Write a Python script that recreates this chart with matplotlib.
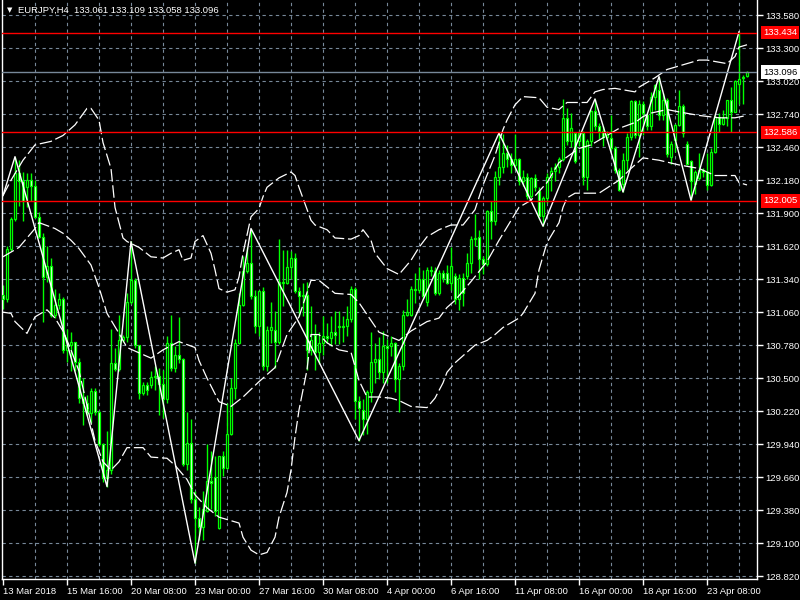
import matplotlib
matplotlib.use('Agg')
import matplotlib.pyplot as plt

# EURJPY H4 candles, 13 Mar 2018 .. 25 Apr 2018
opens = [131.21, 131.17, 131.60, 131.85, 132.24, 132.17, 132.12, 132.18, 132.13, 131.87,
         131.70, 131.36, 131.45, 131.04, 131.12, 131.17, 130.74, 130.78, 130.81, 130.64,
         130.33, 130.29, 130.20, 130.39, 130.21, 129.94, 129.65, 129.72, 130.63, 130.58,
         130.82, 130.85, 131.15, 131.33, 130.78, 130.37, 130.44, 130.44, 130.51, 130.52,
         130.45, 130.32, 130.80, 130.59, 130.70, 130.66, 129.77, 129.95, 129.47, 129.31,
         129.24, 129.37, 129.63, 129.66, 129.23, 129.84, 129.74, 130.03, 130.42, 130.80,
         131.12, 131.41, 131.48, 131.20, 130.94, 131.24, 130.60, 130.91, 130.91, 130.81,
         131.32, 131.31, 131.44, 131.52, 131.24, 131.20, 131.21, 130.74, 130.87, 130.72,
         130.80, 130.86, 130.84, 130.89, 130.93, 130.94, 130.94, 131.00, 131.26, 130.31,
         130.23, 130.15, 130.38, 130.64, 130.66, 130.55, 130.77, 130.77, 130.80, 130.49,
         130.60, 131.04, 131.04, 131.26, 131.25, 131.34, 131.15, 131.42, 131.41, 131.22,
         131.39, 131.39, 131.31, 131.37, 131.17, 131.35, 131.37, 131.48, 131.68, 131.70,
         131.51, 131.47, 131.92, 131.83, 132.21, 132.29, 132.41, 132.36, 132.31, 132.36,
         132.17, 132.21, 132.05, 132.20, 132.09, 131.88, 132.03, 132.21, 132.26, 132.29,
         132.36, 132.71, 132.51, 132.58, 132.51, 132.58, 132.21, 132.51, 132.77, 132.64,
         132.60, 132.55, 132.54, 132.45, 132.27, 132.15, 132.35, 132.55, 132.85, 132.56,
         132.83, 132.73, 132.64, 132.89, 132.95, 132.73, 132.86, 132.38, 132.52, 132.65,
         132.81, 132.49, 132.34, 132.15, 132.20, 132.27, 132.25, 132.14, 132.42, 132.72,
         132.66, 132.71, 132.86, 132.76, 133.00, 133.05, 133.061]
highs = [131.29, 131.62, 131.87, 132.38, 132.35, 132.25, 132.24, 132.24, 132.18, 131.91,
         131.73, 131.62, 131.52, 131.26, 131.22, 131.19, 130.92, 130.89, 130.81, 130.67,
         130.50, 130.36, 130.42, 130.42, 130.23, 129.95, 130.05, 130.92, 130.76, 131.04,
         130.87, 131.22, 131.66, 131.35, 130.78, 130.47, 130.47, 130.56, 130.60, 130.59,
         130.57, 130.86, 131.04, 130.77, 131.02, 130.67, 130.21, 130.15, 129.54, 129.41,
         129.54, 129.94, 129.88, 129.84, 129.84, 129.88, 130.29, 130.50, 130.83, 131.22,
         131.54, 131.61, 131.77, 131.25, 131.25, 131.27, 130.94, 131.15, 131.07, 131.68,
         131.59, 131.59, 131.58, 131.56, 131.27, 131.31, 131.32, 131.11, 130.96, 130.89,
         131.03, 130.97, 131.03, 131.07, 131.07, 131.03, 131.11, 131.28, 131.27, 130.35,
         130.32, 130.40, 130.89, 130.80, 130.85, 130.90, 130.83, 130.86, 130.81, 130.63,
         131.08, 131.17, 131.28, 131.39, 131.44, 131.42, 131.44, 131.45, 131.44, 131.42,
         131.42, 131.46, 131.61, 131.39, 131.38, 131.39, 131.56, 131.71, 131.89, 131.76,
         131.54, 131.93, 132.00, 132.26, 132.58, 132.57, 132.48, 132.41, 132.57, 132.37,
         132.27, 132.24, 132.21, 132.23, 132.12, 132.05, 132.24, 132.29, 132.33, 132.38,
         132.87, 132.79, 132.75, 132.58, 132.60, 132.60, 132.53, 132.78, 132.87, 132.67,
         132.64, 132.60, 132.73, 132.47, 132.28, 132.41, 132.58, 132.86, 132.86, 132.86,
         132.85, 132.75, 132.93, 133.00, 133.06, 132.92, 132.88, 132.51, 132.66, 132.95,
         132.83, 132.51, 132.35, 132.27, 132.41, 132.28, 132.41, 132.45, 132.73, 132.75,
         132.78, 132.86, 132.97, 133.03, 133.44, 133.07, 133.109]
lows = [131.09, 131.15, 131.58, 131.83, 131.96, 131.83, 131.95, 132.00, 131.86, 131.69,
        130.98, 131.32, 131.02, 131.01, 131.09, 130.71, 130.64, 130.56, 130.56, 130.29,
        130.10, 130.19, 130.12, 130.19, 129.92, 129.62, 129.58, 129.69, 130.56, 130.56,
        130.81, 130.81, 131.13, 130.76, 130.32, 130.36, 130.36, 130.42, 130.40, 130.19,
        130.16, 130.29, 130.56, 130.55, 130.63, 129.75, 129.72, 129.44, 128.93, 129.13,
        129.13, 129.36, 129.39, 129.33, 129.22, 129.67, 129.73, 130.02, 130.32, 130.79,
        131.11, 131.39, 131.17, 130.88, 130.86, 130.57, 130.56, 130.80, 130.59, 130.79,
        131.11, 131.30, 131.34, 131.22, 131.03, 131.03, 130.57, 130.70, 130.57, 130.62,
        130.70, 130.80, 130.77, 130.79, 130.79, 130.81, 130.86, 130.98, 130.15, 129.97,
        130.02, 130.03, 130.30, 130.46, 130.49, 130.46, 130.46, 130.69, 130.38, 130.21,
        130.57, 131.03, 131.03, 131.14, 131.22, 131.17, 131.11, 131.37, 131.21, 131.21,
        131.32, 131.30, 131.25, 131.13, 131.08, 131.11, 131.34, 131.39, 131.62, 131.34,
        131.38, 131.45, 131.68, 131.80, 132.14, 132.24, 132.29, 132.24, 132.27, 132.14,
        132.13, 132.02, 132.03, 132.09, 131.85, 131.79, 131.99, 132.09, 132.17, 132.24,
        132.34, 132.48, 132.46, 132.33, 132.47, 132.14, 132.10, 132.47, 132.61, 132.53,
        132.47, 132.52, 132.44, 132.24, 132.09, 132.08, 132.27, 132.52, 132.54, 132.38,
        132.56, 132.61, 132.61, 132.78, 132.69, 132.69, 132.38, 132.32, 132.42, 132.64,
        132.55, 132.31, 132.01, 132.06, 132.18, 132.21, 132.10, 132.13, 132.41, 132.59,
        132.65, 132.64, 132.59, 132.76, 132.83, 132.83, 133.058]
closes = [131.17, 131.60, 131.85, 132.24, 132.17, 132.00, 132.18, 132.13, 131.87, 131.70,
          131.36, 131.45, 131.04, 131.12, 131.17, 130.74, 130.78, 130.81, 130.64, 130.33,
          130.29, 130.20, 130.39, 130.21, 129.94, 129.65, 129.72, 130.63, 130.58, 130.82,
          130.85, 131.15, 131.33, 130.78, 130.37, 130.44, 130.40, 130.51, 130.52, 130.45,
          130.32, 130.80, 130.59, 130.70, 130.66, 129.77, 129.95, 129.47, 129.31, 129.24,
          129.39, 129.63, 129.61, 129.37, 129.84, 129.74, 130.03, 130.42, 130.80, 131.12,
          131.41, 131.48, 131.20, 130.94, 131.24, 130.60, 130.91, 130.93, 130.81, 131.32,
          131.31, 131.44, 131.52, 131.24, 131.20, 131.21, 130.74, 130.82, 130.72, 130.80,
          130.86, 130.84, 130.89, 130.87, 130.94, 130.93, 131.00, 131.26, 130.31, 130.25,
          130.15, 130.38, 130.64, 130.66, 130.55, 130.77, 130.76, 130.80, 130.49, 130.60,
          131.04, 131.06, 131.26, 131.25, 131.34, 131.20, 131.42, 131.41, 131.22, 131.39,
          131.35, 131.31, 131.45, 131.17, 131.35, 131.22, 131.48, 131.68, 131.69, 131.51,
          131.47, 131.92, 131.83, 132.21, 132.29, 132.41, 132.36, 132.31, 132.36, 132.17,
          132.21, 132.05, 132.20, 132.12, 131.88, 132.03, 132.21, 132.26, 132.29, 132.36,
          132.71, 132.51, 132.62, 132.34, 132.58, 132.21, 132.51, 132.77, 132.64, 132.60,
          132.55, 132.56, 132.45, 132.27, 132.10, 132.35, 132.55, 132.85, 132.56, 132.83,
          132.75, 132.64, 132.89, 132.99, 132.73, 132.86, 132.40, 132.49, 132.65, 132.81,
          132.58, 132.32, 132.17, 132.25, 132.27, 132.25, 132.14, 132.42, 132.72, 132.66,
          132.71, 132.86, 132.76, 133.02, 133.04, 133.06, 133.096]

# bands (white dashed), sampled at bar index
upper_bar = [0, 2, 5, 8, 12, 15, 18, 21, 22, 24, 25, 27, 28, 30, 31, 34, 37, 40, 42, 44,
             45, 47, 48, 50, 52, 53, 54, 56, 58, 59, 60, 62, 64, 65, 66, 69, 72, 73, 74, 77,
             78, 81, 83, 87, 89, 90, 92, 93, 96, 99, 102, 104, 106, 109, 112, 115, 118, 120, 123, 125,
             126, 128, 130, 134, 136, 139, 141, 146, 148, 150, 153, 158, 159, 163, 166, 168, 171, 174, 176, 181,
             183, 184, 186]
upper = [132.05, 132.18, 132.35, 132.48, 132.51, 132.56, 132.65, 132.79, 132.79, 132.69,
         132.50, 132.28, 131.95, 131.69, 131.66, 131.61, 131.53, 131.52, 131.56, 131.59,
         131.50, 131.52, 131.66, 131.71, 131.56, 131.42, 131.26, 131.23, 131.25, 131.36,
         131.56, 131.87, 131.94, 132.04, 132.12, 132.20, 132.25, 132.22, 132.12, 131.84,
         131.80, 131.76, 131.69, 131.68, 131.71, 131.76, 131.67, 131.56, 131.43, 131.38,
         131.50, 131.61, 131.70, 131.76, 131.80, 131.80, 131.93, 132.14, 132.39, 132.61,
         132.69, 132.82, 132.89, 132.88, 132.80, 132.78, 132.84, 132.84, 132.93, 132.95,
         132.96, 132.93, 132.97, 133.05, 133.12, 133.14, 133.17, 133.20, 133.20, 133.17,
         133.23, 133.31, 133.33]
middle_bar = [0, 4, 8, 9, 13, 15, 17, 19, 22, 24, 26, 29, 31, 35, 37, 40, 44, 48, 49, 51,
              54, 57, 60, 64, 68, 71, 74, 77, 79, 83, 87, 89, 92, 94, 99, 102, 106, 109, 111, 113,
              117, 121, 124, 129, 132, 136, 139, 144, 147, 149, 154, 158, 160, 162, 166, 169, 174, 179, 183, 186]
middle = [131.53, 131.61, 131.77, 131.82, 131.77, 131.73, 131.67, 131.60, 131.46, 131.27,
          131.05, 130.88, 130.76, 130.70, 130.67, 130.74, 130.81, 130.76, 130.65, 130.50,
          130.30, 130.26, 130.34, 130.47, 130.59, 130.87, 131.02, 131.33, 131.33, 131.22,
          131.21, 131.14, 130.99, 130.89, 130.82, 130.90, 130.98, 131.01, 131.10, 131.16,
          131.32, 131.49, 131.67, 131.95, 132.01, 132.16, 132.33, 132.45, 132.48, 132.52,
          132.62, 132.67, 132.72, 132.75, 132.78, 132.76, 132.73, 132.71, 132.71, 132.73]
lower_bar = [0, 2, 3, 6, 8, 11, 13, 15, 17, 19, 21, 23, 25, 27, 29, 31, 35, 37, 41, 43,
             46, 48, 51, 54, 56, 59, 60, 62, 64, 66, 68, 69, 71, 72, 73, 74, 76, 77, 79, 81,
             84, 87, 89, 91, 94, 97, 99, 102, 106, 108, 110, 111, 113, 116, 118, 121, 123, 125, 129, 130,
             133, 134, 136, 139, 140, 141, 143, 147, 149, 154, 157, 160, 164, 169, 174, 178, 181, 183, 184, 186]
lower = [131.06, 131.05, 130.98, 130.88, 131.02, 131.08, 131.01, 130.90, 130.74, 130.56,
         130.27, 129.97, 129.79, 129.72, 129.79, 129.91, 129.91, 129.83, 129.82, 129.76,
         129.64, 129.51, 129.40, 129.32, 129.30, 129.27, 129.15, 129.04, 129.00, 129.02,
         129.15, 129.32, 129.53, 129.72, 130.00, 130.23, 130.57, 130.87, 130.87, 130.80,
         130.74, 130.72, 130.48, 130.34, 130.34, 130.33, 130.31, 130.26, 130.25, 130.33,
         130.46, 130.55, 130.63, 130.72, 130.78, 130.82, 130.87, 130.93, 131.01, 131.05,
         131.22, 131.42, 131.65, 131.82, 131.95, 132.03, 132.07, 132.07, 132.07, 132.18,
         132.28, 132.37, 132.35, 132.31, 132.28, 132.22, 132.22, 132.22, 132.16, 132.14]

# zigzag turning points
zz_bar = [0, 3, 26, 32, 48, 62, 89, 124, 135, 148, 155, 164, 172, 184]
zz_price = [132.05, 132.38, 129.58, 131.66, 128.93, 131.77, 129.97, 132.58, 131.79, 132.87,
            132.08, 133.06, 132.01, 133.44]

red_levels = [133.434, 132.586, 132.005]
bid = 133.096
price_ticks = [128.820, 129.100, 129.380, 129.660, 129.940, 130.220, 130.500, 130.780, 131.060,
               131.340, 131.620, 131.900, 132.180, 132.460, 132.740, 133.020, 133.300, 133.580]
time_labels = ['13 Mar 2018', '15 Mar 16:00', '20 Mar 08:00', '23 Mar 00:00', '27 Mar 16:00',
               '30 Mar 08:00', '4 Apr 00:00', '6 Apr 16:00', '11 Apr 08:00', '16 Apr 00:00',
               '18 Apr 16:00', '23 Apr 08:00']
title = 'EURJPY,H4  133.061 133.109 133.058 133.096'

FONT = ['Liberation Sans', 'DejaVu Sans']
FS = 6.8
LIME = '#00ff00'
GRID = '#778899'

fig = plt.figure(figsize=(8, 6), dpi=100, facecolor='black')
ax = fig.add_axes([2 / 800, 21 / 600, 755 / 800, 579 / 600], facecolor='black')
ax.set_xlim(-0.25, 188.5)
ax.set_ylim(128.795, 133.710)

# grid
for p in price_ticks:
    ax.axhline(p, color=GRID, lw=0.8, ls=(0, (3, 3)), zorder=0)
for b in range(8, 188, 8):
    ax.axvline(b, color=GRID, lw=0.8, ls=(0, (3, 3)), zorder=0)

# candles
n = len(closes)
x = list(range(n))
ax.vlines(x, lows, highs, color=LIME, lw=1, zorder=2)
bottoms = [min(o, c) for o, c in zip(opens, closes)]
heights = [max(abs(c - o), 0.004) for o, c in zip(opens, closes)]
fills = ['black' if c >= o else 'white' for o, c in zip(opens, closes)]
ax.bar(x, heights, bottom=bottoms, width=0.6, color=fills, edgecolor=LIME,
       linewidth=0.9, zorder=3)

# bands and zigzag
dash = (0, (10, 3))
ax.plot(upper_bar, upper, color='white', lw=0.9, ls=dash, zorder=4)
ax.plot(middle_bar, middle, color='white', lw=0.9, ls=dash, zorder=4)
ax.plot(lower_bar, lower, color='white', lw=0.9, ls=dash, zorder=4)
ax.plot(zz_bar, zz_price, color='white', lw=1, zorder=4)

# horizontal levels
for lv in red_levels:
    ax.axhline(lv, color='red', lw=1, zorder=5)
ax.axhline(bid, color=GRID, lw=1, zorder=5)

# axes styling
ax.spines['top'].set_visible(False)
for s in ['left', 'right', 'bottom']:
    ax.spines[s].set_color('white')
    ax.spines[s].set_linewidth(1)

ax.yaxis.tick_right()
ax.set_yticks(price_ticks)
ax.set_yticklabels(['%.3f' % p for p in price_ticks], fontfamily=FONT, fontsize=FS)
ax.tick_params(axis='y', colors='white', length=4, width=1, pad=2)

ax.set_xticks(list(range(0, 16 * len(time_labels), 16)))
ax.set_xticklabels(time_labels, fontfamily=FONT, fontsize=FS, ha='left')
ax.tick_params(axis='x', colors='white', length=4, width=1, pad=2)

# price labels for levels on the right scale
ytr = ax.get_yaxis_transform()
for lv in red_levels:
    ax.text(1.0 + 6 / 755, lv, '%.3f' % lv, transform=ytr, ha='left', va='center',
            color='white', fontfamily=FONT, fontsize=FS, zorder=10, clip_on=False,
            bbox=dict(boxstyle='square,pad=0.25', fc='red', ec='none'))
ax.text(1.0 + 6 / 755, bid, '%.3f' % bid, transform=ytr, ha='left', va='center',
        color='black', fontfamily=FONT, fontsize=FS, zorder=10, clip_on=False,
        bbox=dict(boxstyle='square,pad=0.25', fc='white', ec='none'))

# title
fig.text(7 / 800, 1 - 10 / 600, '\u25bc', color='white', fontsize=5,
         fontfamily='DejaVu Sans', va='center', ha='left')
fig.text(18 / 800, 1 - 10 / 600, title, color='white', fontsize=FS,
         fontfamily=FONT, va='center', ha='left')

fig.savefig('out.png', dpi=100, facecolor='black')
